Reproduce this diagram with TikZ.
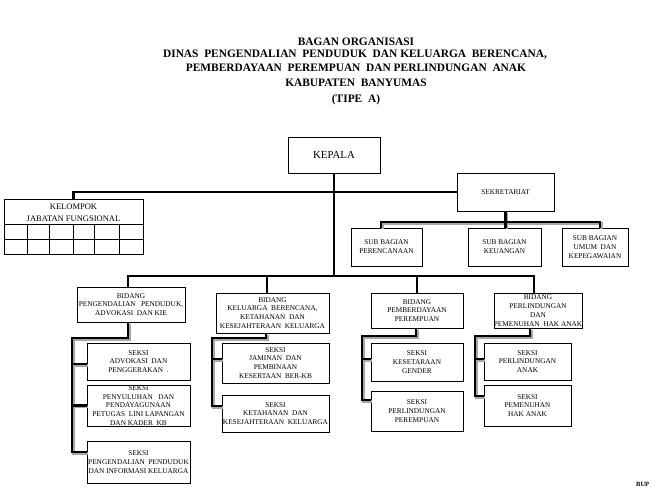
\documentclass[tikz,border=0pt]{standalone}
\usepackage{fontspec}
\setmainfont{Liberation Serif}
\newcommand\mybox[6]{\node[box,minimum width={#4-#2},minimum height={#5-#3}] (#1) at ({(#2+#4)/2},{(#3+#5)/2}) {#6};}
\begin{document}
\begin{tikzpicture}[x=1pt,y=-1pt,
  box/.style={draw,line width=0.8pt,inner sep=0pt,align=center,font=\fontsize{7.3}{8.8}\selectfont},
  conn/.style={line width=2.4pt},
  ttl/.style={anchor=base,inner sep=0pt,font=\fontsize{11.4}{13}\selectfont\bfseries},
  grid/.style={line width=0.8pt}]
\useasboundingbox (0,0) rectangle (659,488);
\clip (0,0) rectangle (659,488);
% title
\node[ttl] (t1) at (356,45.5) {BAGAN ORGANISASI};
\node[ttl] (t2) at (355,57) {DINAS\ \ PENGENDALIAN\ \ PENDUDUK\ \ DAN KELUARGA\ \ BERENCANA,};
\node[ttl] (t3) at (356,71.5) {PEMBERDAYAAN\ \ PEREMPUAN\ \ DAN PERLINDUNGAN\ \ ANAK};
\node[ttl] (t4) at (356,86.5) {KABUPATEN\ \ BANYUMAS};
\node[ttl] (t5) at (356,102) {(TIPE\ \ A)};
% top
\mybox{kep}{288}{137}{380}{173}{\fontsize{10.8}{12}\selectfont KEPALA}
\mybox{sek}{457}{173}{554}{211}{SEKRETARIAT}
\mybox{kel}{4}{199}{143}{254}{}
\node[inner sep=0pt,align=center,font=\fontsize{8.5}{12}\selectfont] (kelt) at (73.5,212.5) {KELOMPOK\\JABATAN FUNGSIONAL};
\draw[grid] (kel.west |- 0,224) -- (kel.east |- 0,224);
\draw[grid] (kel.west |- 0,239) -- (kel.east |- 0,239);
\foreach \gx in {27,49,73,94,119} \draw[grid] (\gx,224) -- (\gx,254);
% sub bagian
\mybox{sb1}{351}{228}{422}{266}{SUB BAGIAN\\PERENCANAAN}
\mybox{sb2}{468}{228}{541}{266}{SUB BAGIAN\\KEUANGAN}
\mybox{sb3}{562}{228}{628}{266}{SUB BAGIAN\\UMUM\ \ DAN\\KEPEGAWAIAN}
% bidang
\mybox{b1}{77}{287}{185}{322}{BIDANG\\PENGENDALIAN\ \ \ PENDUDUK,\\ADVOKASI\ \ DAN\ KIE}
\mybox{b2}{216}{293}{329}{333}{BIDANG\\KELUARGA\ \ BERENCANA,\\KETAHANAN\ \ DAN\\KESEJAHTERAAN\ \ KELUARGA}
\mybox{b3}{371}{293}{463}{328}{BIDANG\\PEMBERDAYAAN\\PEREMPUAN}
\mybox{b4}{494}{293}{582}{328}{BIDANG\\PERLINDUNGAN\\DAN\\PEMENUHAN\ \ HAK ANAK}
% seksi
\mybox{s1a}{87}{343}{190}{380}{SEKSI\\ADVOKASI\ \ DAN\\PENGGERAKAN\ \ .}
\mybox{s1b}{87}{385}{190}{426}{SEKSI\\PENYULUHAN\ \ \ DAN\\PENDAYAGUNAAN\\PETUGAS\ \ LINI LAPANGAN\\DAN KADER\ \ KB}
\mybox{s1c}{87}{441}{190}{483}{SEKSI\\PENGENDALIAN\ \ PENDUDUK\\DAN\ INFORMASI\ KELUARGA}
\mybox{s2a}{222}{343}{329}{383}{SEKSI\\JAMINAN\ \ DAN\\PEMBINAAN\\KESERTAAN\ \ BER-KB}
\mybox{s2b}{222}{395}{329}{432}{SEKSI\\KETAHANAN\ \ DAN\\KESEJAHTERAAN\ \ KELUARGA}
\mybox{s3a}{371}{343}{463}{381}{SEKSI\\KESETARAAN\\GENDER}
\mybox{s3b}{371}{391}{463}{431}{SEKSI\\PERLINDUNGAN\\PEREMPUAN}
\mybox{s4a}{484}{343}{571}{380}{SEKSI\\PERLINDUNGAN\\ANAK}
\mybox{s4b}{484}{385}{571}{426}{SEKSI\\PEMENUHAN\\HAK ANAK}
% coordinates
\coordinate (bb) at (0,276);
\coordinate (sbb) at (0,222);
\coordinate (sp1) at (72,338);  \coordinate (sp1e) at (72,452);
\coordinate (sp2) at (212,338); \coordinate (sp2e) at (212,406); \coordinate (br2a) at (212,359);
\coordinate (sp3) at (362,336); \coordinate (sp3e) at (362,400); \coordinate (br3a) at (362,359);
\coordinate (sp4) at (475,336); \coordinate (sp4e) at (475,396); \coordinate (br4a) at (475,359);
% main connectors
\draw[conn] (kel.north) |- (sek.west);
\draw[conn] (kep.south) -- (kep.south |- bb);
\draw[conn] ([xshift=-3pt]b1.north) |- ([xshift=-4pt]b4.north |- bb) -- ([xshift=-4pt]b4.north);
\draw[conn] ([xshift=-5.5pt]b2.north) -- ([xshift=-5.5pt]b2.north |- bb);
\draw[conn] (b3.north) -- (b3.north |- bb);
% sekretariat and seksi connectors (with grey shadow)
\foreach \c/\s in {black!35/1.3,black/0}{
\draw[conn,\c,transform canvas={shift={(\s pt,-\s pt)}}]
  ([xshift=-5.5pt]sb1.north) |- ([xshift=5pt]sb3.north |- sbb) -- ([xshift=5pt]sb3.north)
  (sek.south) -- (sb2.north -| sek.south);
\draw[conn,\c,transform canvas={shift={(\s pt,-\s pt)}}]
  ([xshift=-3pt]b1.south) |- (sp1) -- (sp1e) -- (s1c.west |- sp1e)
  ([yshift=-2.5pt]s1a.west -| sp1) -- ([yshift=-2.5pt]s1a.west)
  (s1b.west -| sp1) -- (s1b.west);
\draw[conn,\c,transform canvas={shift={(\s pt,-\s pt)}}]
  ([xshift=-6.5pt]b2.south) |- (sp2) -- (sp2e) -- (s2b.west |- sp2e)
  (br2a) -- (s2a.west |- br2a);
\draw[conn,\c,transform canvas={shift={(\s pt,-\s pt)}}]
  ([xshift=-1pt]b3.south) |- (sp3) -- (sp3e) -- (s3b.west |- sp3e)
  (br3a) -- (s3a.west |- br3a);
\draw[conn,\c,transform canvas={shift={(\s pt,-\s pt)}}]
  ([xshift=-8pt]b4.south) |- (sp4) -- (sp4e) -- (s4b.west |- sp4e)
  (br4a) -- (s4a.west |- br4a);
}
% signature fragment at the lower right edge
\node[anchor=base west,inner sep=0pt,font=\fontsize{6.5}{8}\selectfont\bfseries] (sig) at (636,486.5) {BUP};
\end{tikzpicture}
\end{document}
